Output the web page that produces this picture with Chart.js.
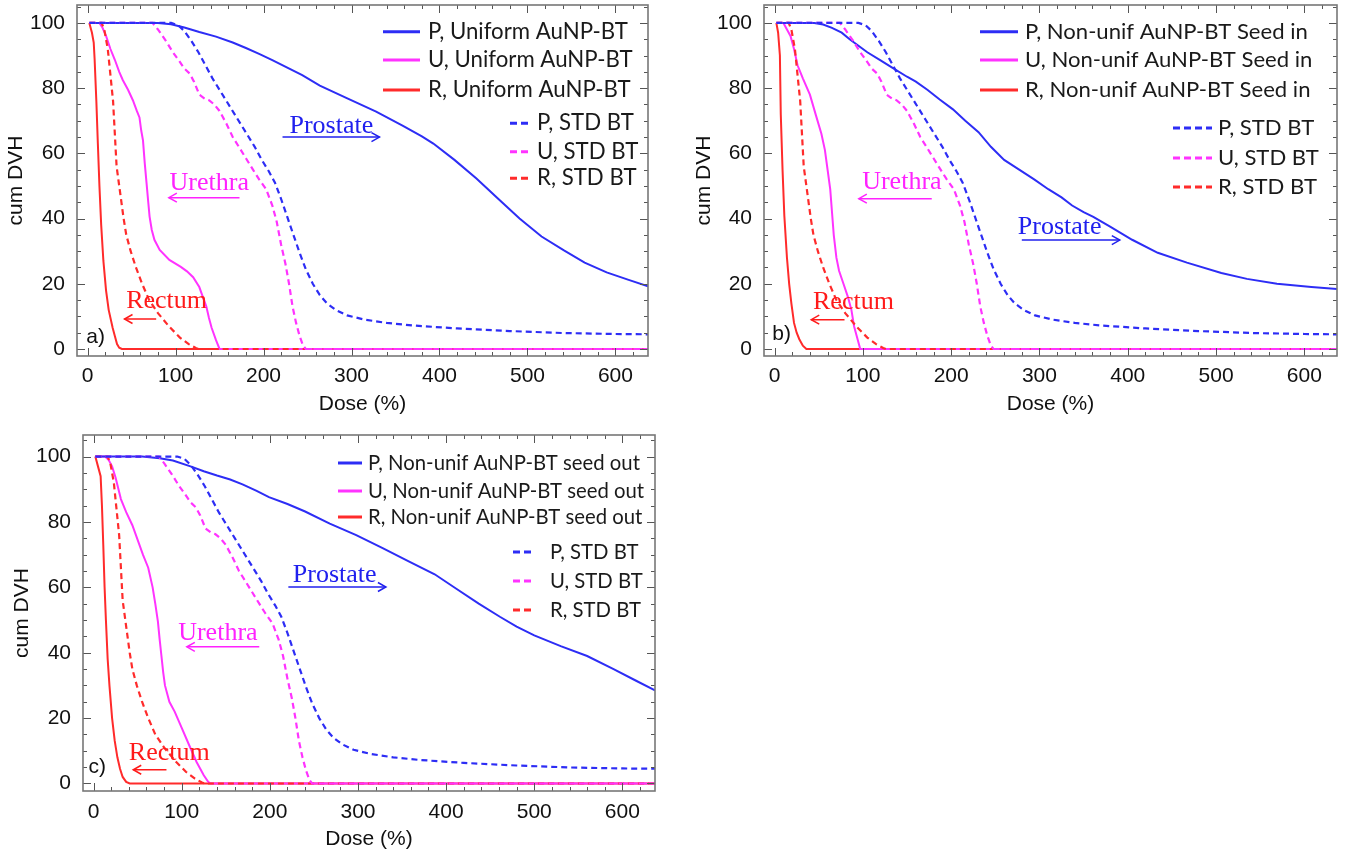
<!DOCTYPE html>
<html>
<head>
<meta charset="utf-8">
<script src="https://cdn.jsdelivr.net/npm/chart.js@4.4.0/dist/chart.umd.min.js"></script>
<style>
  body { margin: 0; background: #fff; }
  canvas { position: absolute; }
</style>
</head>
<body>
<canvas id="chartA" width="660" height="420" style="left:0;top:0"></canvas>
<canvas id="chartB" width="666" height="420" style="left:680px;top:0"></canvas>
<canvas id="chartC" width="666" height="429" style="left:0;top:428px"></canvas>
<script>
// ---- axes ----
const xTickValues = [0, 100, 200, 300, 400, 500, 600];
const yTickValues = [0, 20, 40, 60, 80, 100];

// ---- STD BT (same in all panels), [dose %, cum DVH] ----
const stdP = [[2,100],[95,100],[103,99.3],[110,97.5],[118,94.5],[126,91],[134,87],[142,83],[150,79.5],[158,76],[166,72.5],[174,69],[182,65.5],[190,62],[198,58],[206,54.5],[213,51],[220,46],[227,40.5],[234,35],[241,29.5],[248,24.5],[256,20],[264,16.5],[272,14],[282,12],[295,10.3],[315,9],[340,8],[370,7.2],[420,6.3],[480,5.5],[540,4.9],[600,4.6],[637,4.5]];
const stdU = [[2,100],[74,100],[80,98],[89,94.5],[97,91],[104,88.4],[110,86],[116,84.5],[121,82],[127,78],[133,76.8],[138,76.3],[144,75],[150,73],[158,69],[165,65],[172,62],[180,58.5],[188,55],[195,52],[203,49],[210,44],[215,39],[220,32],[225,26],[229,20],[233,13],[237,8],[241,4],[245,1],[248,0],[637,0]];
const stdR = [[2,100],[16,100],[19,98],[23,92],[26,84],[29,76],[31,66],[33,56],[36,50],[38,46],[41,40],[44,35],[49,30],[55,25],[62,20],[70,15],[80,11],[93,6.8],[105,3.5],[115,1.5],[123,0.3],[126,0],[637,0]];

// ---- a) Uniform AuNP-BT ----
const uniP = [[2,100],[80,100],[95,99.6],[110,98.6],[127,97.2],[146,95.8],[165,94],[180,92.3],[195,90.5],[210,88.6],[227,86.3],[244,84],[264,80.8],[294,77],[328,72.8],[358,68.5],[380,65.2],[393,63],[417,58],[442,52.3],[467,46],[491,40],[516,34.5],[541,30.3],[565,26.5],[590,23.5],[615,21.2],[637,19.2]];
const uniU = [[2,100],[13.5,100],[17,98.5],[21,96],[26,92],[31,88.7],[36,85],[40,82.5],[46,79.5],[51.5,76.3],[56,73],[59,71],[61,67],[63,64],[65,57],[67,51],[69,45],[70.5,40.6],[73,36.5],[76,33.5],[82,30.4],[93,27.3],[106,25.2],[113,23.8],[120,22],[127,19],[131,16],[135,13],[138,9.5],[141,6.5],[146,2.7],[150,0],[637,0]];
const uniR = [[2,100],[5,97],[7,94],[8,89],[10,76],[11.7,63],[13.5,50],[15.5,38],[18,27],[21,18],[24,12],[28.5,6.5],[31,4],[33.5,1.5],[36,0.4],[39,0],[637,0]];

// ---- b) Non-unif AuNP-BT, seed in ----
const inP = [[2,100],[45,100],[55,99.5],[65,98.5],[76,97],[85,95],[95,93],[105,91],[120,88.5],[135,86],[150,83.5],[160,82],[173,79.5],[187,76.5],[202,73.5],[216,70],[231,66.5],[245,62],[260,58],[277,55],[294,52],[310,49],[325,46.5],[337,44],[350,42],[361,40.5],[380,37.5],[405,33.5],[434,29.5],[467,26.5],[506,23.3],[535,21.5],[569,20],[608,19],[637,18.4]];
const inU = [[2,100],[10,100],[14,98],[18,96],[22,92],[26,87],[32,83],[40,78],[47,71.5],[53,66],[57,61],[60,55],[63,49],[65,42],[67,35],[70,28],[73,24],[78,20],[83,16],[87,12],[90,7],[93,4],[97,0],[637,0]];
const inR = [[2,100],[4,97],[6,90],[7,72],[9,55],[11,41],[14,28],[16.5,20],[19,14],[22,8],[25,5],[28,3],[32,1],[36,0],[637,0]];

// ---- c) Non-unif AuNP-BT, seed out ----
const outP = [[2,100],[55,100],[75,99.5],[90,98.8],[110,97],[125,95.5],[140,94.2],[155,93],[169,91.5],[185,89.5],[199,87.6],[220,85.5],[240,83.2],[268,79.5],[298,76],[328,72],[357,68],[387,64],[412,59.5],[437,55],[461,51],[480,48],[500,45.3],[530,42],[560,39],[590,35],[615,31.5],[637,28.5]];
const outU = [[2,100],[13,100],[17,99],[21,97],[25,93.5],[31,87],[37,83],[44,79],[50,74.5],[56,70],[62,66],[67,60],[70,55],[73,49.5],[75,44],[77,39],[79,34],[81,30],[86,25],[92,22],[100,17],[108,12],[117,6.5],[125,2.5],[130,0.5],[133,0],[637,0]];
const outR = [[2,100],[5,97],[8,94],[9.5,85],[11,73],[12.5,60],[14,50],[16,38],[18,30],[21,20],[24,13],[27,8],[30,4.5],[33,2],[37,0.5],[41,0],[637,0]];

// ---- labels ----
const labelsA = ["P, Uniform AuNP-BT", "U, Uniform AuNP-BT", "R, Uniform AuNP-BT"];
const labelsB = ["P, Non-unif AuNP-BT Seed in", "U, Non-unif AuNP-BT Seed in", "R, Non-unif AuNP-BT Seed in"];
const labelsC = ["P, Non-unif AuNP-BT seed out", "U, Non-unif AuNP-BT seed out", "R, Non-unif AuNP-BT seed out"];
const labelsStd = ["P, STD BT", "U, STD BT", "R, STD BT"];
const organNames = ["Prostate", "Urethra", "Rectum"];

const BLUE = "#2d2df5", MAGENTA = "#ff33ff", RED = "#ff2b2b";
const colors = [BLUE, MAGENTA, RED];
const noteColors = ["#2020ee", "#ff22ff", "#ff1a1a"];

// ------------------------------
// Plugins
// ------------------------------
function line(ctx, x1, y1, x2, y2) {
    ctx.beginPath();
    ctx.moveTo(x1, y1);
    ctx.lineTo(x2, y2);
    ctx.stroke();
}

const framePlugin = {
    id: "frame",
    afterDatasetsDraw(chart) {
        const { ctx, chartArea: a, scales: { x, y } } = chart;
        ctx.save();
        ctx.strokeStyle = "#555";
        ctx.lineWidth = 1;
        for (let v = 0; v <= 630; v += 20) {
            const px = Math.round(x.getPixelForValue(v)) + 0.5;
            const len = v % 100 === 0 ? 8 : 4;
            line(ctx, px, a.bottom, px, a.bottom - len);
            line(ctx, px, a.top, px, a.top + len);
        }
        for (let v = 0; v <= 105; v += 5) {
            const py = Math.round(y.getPixelForValue(v)) + 0.5;
            const len = v % 20 === 0 ? 8 : 4;
            line(ctx, a.left, py, a.left + len, py);
            line(ctx, a.right, py, a.right - len, py);
        }
        ctx.strokeStyle = "#777";
        ctx.lineWidth = 1.6;
        ctx.strokeRect(a.left, a.top, a.right - a.left, a.bottom - a.top);
        ctx.restore();
    }
};

const notesPlugin = {
    id: "notes",
    afterDatasetsDraw(chart, args, opts) {
        const { ctx, scales: { x, y } } = chart;
        ctx.save();
        opts.items.forEach(n => {
            ctx.fillStyle = n.color;
            ctx.strokeStyle = n.color;
            ctx.font = "26px 'Liberation Serif', 'Times New Roman', serif";
            ctx.textBaseline = "alphabetic";
            ctx.textAlign = "left";
            ctx.fillText(n.text, x.getPixelForValue(n.x), y.getPixelForValue(n.y));
            const x1 = x.getPixelForValue(n.arrow[0]);
            const x2 = x.getPixelForValue(n.arrow[1]);
            const ya = y.getPixelForValue(n.arrow[2]);
            ctx.lineWidth = 1.5;
            line(ctx, x1, ya, x2, ya);
            const hx = n.head === "left" ? x1 : x2;
            const d = n.head === "left" ? 8 : -8;
            ctx.beginPath();
            ctx.moveTo(hx + d, ya - 4.5);
            ctx.lineTo(hx, ya);
            ctx.lineTo(hx + d, ya + 4.5);
            ctx.stroke();
        });
        const t = opts.tag;
        ctx.fillStyle = "#111";
        ctx.font = "21px 'Liberation Sans', Arial, sans-serif";
        ctx.textBaseline = "middle";
        ctx.fillText(t.text, x.getPixelForValue(t.x), y.getPixelForValue(t.y));
        ctx.restore();
    }
};

const legendPlugin = {
    id: "boxLegend",
    afterDraw(chart, args, opts) {
        const ctx = chart.ctx;
        const sets = chart.data.datasets;
        ctx.save();
        ctx.font = "100px Lato";
        const size = 100 * opts.fitWidth / ctx.measureText(sets[0].label).width;
        ctx.font = size.toFixed(2) + "px Lato";
        ctx.textBaseline = "middle";
        ctx.fillStyle = "#1a1a1a";
        sets.forEach((ds, i) => {
            const dashed = i >= 3;
            const row = dashed ? opts.dashRows[i - 3] : opts.solidRows[i];
            const ln = dashed ? opts.dashLine : opts.solidLine;
            ctx.strokeStyle = ds.borderColor;
            ctx.lineWidth = 3;
            ctx.setLineDash(dashed ? [7, 4] : []);
            line(ctx, ln[0], row, ln[1], row);
            ctx.setLineDash([]);
            ctx.fillText(ds.label, dashed ? opts.dashText : opts.solidText, row);
        });
        ctx.restore();
    }
};

// ------------------------------
// Chart builder
// ------------------------------
function toXY(arr) {
    return arr.map(([x, y]) => ({ x, y }));
}

function makeDatasets(series, labels) {
    const solid = series.map((s, i) => ({
        label: labels[i], data: toXY(s), borderColor: colors[i],
        borderWidth: 2, order: 1
    }));
    const dashed = [stdP, stdU, stdR].map((s, i) => ({
        label: labelsStd[i], data: toXY(s), borderColor: colors[i],
        borderWidth: 2.2, borderDash: [6, 4], order: 0
    }));
    return solid.concat(dashed);
}

function drawPanel(id, series, labels, cfg) {
    const axisFont = { family: "'Liberation Sans', Arial, sans-serif", size: 21 };
    new Chart(document.getElementById(id), {
        type: "scatter",
        data: { datasets: makeDatasets(series, labels) },
        options: {
            responsive: false,
            animation: false,
            showLine: true,
            elements: { point: { radius: 0 }, line: { tension: 0, fill: false } },
            layout: { padding: { left: 0, top: cfg.padTop, right: cfg.padRight, bottom: 0 } },
            plugins: {
                legend: { display: false },
                tooltip: { enabled: false },
                boxLegend: cfg.legend,
                notes: cfg.notes
            },
            scales: {
                x: {
                    type: "linear", min: -12, max: 637,
                    grid: { display: false }, border: { display: false },
                    ticks: { font: axisFont, color: "#111", padding: cfg.xTickPad, maxRotation: 0 },
                    afterBuildTicks: s => { s.ticks = xTickValues.map(v => ({ value: v })); },
                    afterFit: s => { s.height = cfg.xHeight; s.paddingLeft = 0; s.paddingRight = 0; },
                    title: { display: true, text: "Dose (%)", font: axisFont, color: "#111",
                             padding: { top: 0, bottom: cfg.xTitlePad } }
                },
                y: {
                    type: "linear", min: cfg.yMin, max: cfg.yMax,
                    grid: { display: false }, border: { display: false },
                    ticks: { font: axisFont, color: "#111", padding: 4 },
                    afterBuildTicks: s => { s.ticks = yTickValues.map(v => ({ value: v })); },
                    afterFit: s => { s.width = cfg.yWidth; s.paddingTop = 0; s.paddingBottom = 0; },
                    title: { display: true, text: "cum DVH", font: axisFont, color: "#111",
                             padding: { top: cfg.yTitlePad, bottom: 0 } }
                }
            }
        },
        plugins: [framePlugin, notesPlugin, legendPlugin]
    });
}

function notes(p, u, r, tag) {
    return {
        items: [p, u, r].map((n, i) => Object.assign({ text: organNames[i], color: noteColors[i] }, n)),
        tag
    };
}

// ------------------------------
// Panels
// ------------------------------
drawPanel("chartA", [uniP, uniU, uniR], labelsA, {
    padTop: 5, padRight: 12, yWidth: 77, xHeight: 64,
    yMin: -2.15, yMax: 105.5, xTickPad: 0, xTitlePad: 3, yTitlePad: 4,
    legend: { fitWidth: 200, solidLine: [383, 420], solidText: 428, solidRows: [31.7, 60, 90],
              dashLine: [510, 528], dashText: 537, dashRows: [123.3, 151.7, 178.3] },
    notes: notes(
        { x: 229.5, y: 66.3, arrow: [221.6, 331.8, 65.0], head: "right" },
        { x: 93.2, y: 48.8, arrow: [92.4, 172.7, 46.4], head: "left" },
        { x: 43.9, y: 12.5, arrow: [42, 78, 9.2], head: "left" },
        { text: "a)", x: -1.5, y: 3.7 })
});

drawPanel("chartB", [inP, inU, inR], labelsB, {
    padTop: 5, padRight: 9, yWidth: 84, xHeight: 64,
    yMin: -2.15, yMax: 105.5, xTickPad: 0, xTitlePad: 3, yTitlePad: 11.4,
    legend: { fitWidth: 283, solidLine: [300, 338], solidText: 345, solidRows: [31.7, 60, 90],
              dashLine: [493, 532], dashText: 538, dashRows: [128, 158, 187] },
    notes: notes(
        { x: 275.5, y: 35.4, arrow: [280, 391, 33.4], head: "right" },
        { x: 99.2, y: 49, arrow: [95.4, 178, 46.1], head: "left" },
        { x: 43.5, y: 12.2, arrow: [41.5, 79.2, 9.0], head: "left" },
        { text: "b)", x: -2.7, y: 4.5 })
});

drawPanel("chartC", [outP, outU, outR], labelsC, {
    padTop: 7, padRight: 11, yWidth: 83, xHeight: 66,
    yMin: -2.3, yMax: 106.6, xTickPad: 1, xTitlePad: 5, yTitlePad: 9.4,
    legend: { fitWidth: 272, solidLine: [338, 362], solidText: 368, solidRows: [35, 63, 89],
              dashLine: [513, 535], dashText: 550, dashRows: [124, 153, 182] },
    notes: notes(
        { x: 226, y: 61.6, arrow: [221, 331.7, 60.1], head: "right" },
        { x: 96, y: 43.9, arrow: [105.8, 188, 41.8], head: "left" },
        { x: 40, y: 7.1, arrow: [45, 82.7, 4.2], head: "left" },
        { text: "c)", x: -5.8, y: 5.0 })
});
</script>
</body>
</html>
